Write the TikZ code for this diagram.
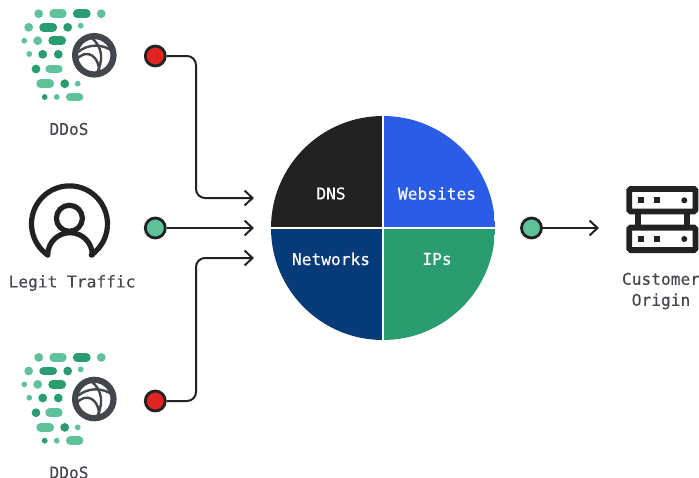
\documentclass[tikz,border=0pt]{standalone}
\usepackage{fontspec}
\setmonofont[FakeBold=0.3]{DejaVu Sans Mono}
\usetikzlibrary{arrows.meta}
\definecolor{inkdark}{HTML}{222222}
\definecolor{inkgrey}{HTML}{43474D}
\definecolor{lightgreen}{HTML}{5FC29A}
\definecolor{darkgreen}{HTML}{2A9D70}
\definecolor{alertred}{HTML}{E02424}
\definecolor{pieblue}{HTML}{2A5CE6}
\definecolor{pienavy}{HTML}{073B78}
\tikzset{
  label text/.style={font=\ttfamily\fontsize{16.2}{21}\selectfont,text=inkgrey,align=center,inner sep=0pt},
  pie text/.style={font=\ttfamily\fontsize{16.2}{20}\selectfont,text=white,inner sep=0pt},
  red dot/.style={circle,draw=inkdark,line width=2.8pt,fill=alertred,minimum size=20pt,inner sep=0pt},
  green dot/.style={circle,draw=inkdark,line width=2.8pt,fill=lightgreen,minimum size=20pt,inner sep=0pt},
  link/.style={draw=inkdark,line width=2pt,rounded corners=9pt,-{Straight Barb[length=8pt,width=15pt,line width=2pt]}},
  pill/.style={line width=8.8pt,line cap=round}
}
\begin{document}
\begin{tikzpicture}[x=1pt,y=-1pt]
\useasboundingbox (0,0) rectangle (699,477);
% attack icons
\foreach \dy in {0,343.7} {
  \begin{scope}[yshift=-\dy pt]
    \foreach \x/\y/\r in {38.7/13.7/4.4,101.3/13.7/4.4,28.7/27.3/4.4,80.7/25.7/2.9,24.3/40.7/2.9,37.7/40.7/4.4,29.3/54/2.9,77.7/83.7/2.9,56.7/97/2.9}
      \fill[lightgreen] (\x,\y) circle[radius=\r];
    \foreach \x/\y/\r in {67.7/27.3/4.4,42.7/54.3/4.4,58.3/54.3/4.4,36/69/4.4,64.7/83.7/4.4,44.7/97/2.9}
      \fill[darkgreen] (\x,\y) circle[radius=\r];
    \foreach \xa/\xb/\y in {53.7/62.3/13.7,49.7/58.3/69,40.7/49.7/83.7,70.3/79/97}
      \draw[pill,lightgreen] (\xa,\y) -- (\xb,\y);
    \foreach \xa/\xb/\y in {77.3/86.3/13.7,43.7/52.7/27.3,52.7/61.7/40.7}
      \draw[pill,darkgreen] (\xa,\y) -- (\xb,\y);
    \draw[inkgrey,line width=6.2pt] (94.3,55.3) circle[radius=19.2];
    \begin{scope}
      \clip (94.3,55.3) circle[radius=19.2];
      \draw[inkgrey,line width=2.4pt] (78,52) .. controls (88,44) and (102,43) .. (114,52);
      \draw[inkgrey,line width=2.4pt] (76,60) .. controls (86,48) and (100,54) .. (99.5,76);
      \draw[inkgrey,line width=2.4pt] (89,36) .. controls (104,46) and (104,62) .. (95,76);
    \end{scope}
  \end{scope}
}
\node[label text] (ddosTop) at (69,129) {DDoS};
\node[label text] (ddosBottom) at (69,472.5) {DDoS};
% legit traffic icon
\draw[inkdark,line width=5.2pt,line cap=round] (47.7,255) arc[start angle=125,end angle=415,radius=38];
\draw[inkdark,line width=5.2pt] (69.4,218.3) circle[radius=13];
\draw[inkdark,line width=5.2pt,line cap=round] (47.7,255) arc[start angle=180,end angle=360,radius=22.3];
\node[label text] (legit) at (72,283) {Legit Traffic};
% customer origin icon
\foreach \y in {186,224.7} {
  \draw[inkdark,line width=5.8pt,rounded corners=1.5pt,fill=white] (629.2,\y+2.9) rectangle (695.4,\y+25.4);
  \fill[inkdark] (638,\y+11.3) rectangle +(6.3,6);
  \fill[inkdark] (653.7,\y+11.3) rectangle +(6.3,6);
  \fill[inkdark] (684.3,\y+14.3) circle[radius=3];
}
\fill[inkdark] (634.7,214) rectangle (640.7,225);
\fill[inkdark] (683.7,214) rectangle (689.7,225);
\node[label text] (origin) at (661,291) {Customer\\Origin};
% pie
\begin{scope}
  \clip (383,228) circle[radius=112];
  \fill[inkdark] (271,116) rectangle (381.7,226.7);
  \fill[pieblue] (384.3,116) rectangle (495,226.7);
  \fill[pienavy] (271,229.3) rectangle (381.7,340);
  \fill[darkgreen] (384.3,229.3) rectangle (495,340);
\end{scope}
\node[pie text] (dns) at (331,193.5) {DNS};
\node[pie text] (websites) at (437,193.5) {Websites};
\node[pie text] (networks) at (331,259) {Networks};
\node[pie text] (ips) at (437,259) {IPs};
% connectors
\node[red dot] (dotTop) at (155.3,56) {};
\node[green dot] (dotMid) at (155.3,228) {};
\node[red dot] (dotBottom) at (155.3,401) {};
\node[green dot] (dotOut) at (531.5,228) {};
\coordinate (inTop) at (254,198);
\coordinate (inMid) at (254,228);
\coordinate (inBottom) at (254,258);
\coordinate (outEnd) at (599,228);
\draw[link] (dotTop) -- (196,56) -- (196,198) -- (inTop);
\draw[link] (dotMid) -- (inMid);
\draw[link] (dotBottom) -- (196,401) -- (196,258) -- (inBottom);
\draw[link] (dotOut) -- (outEnd);
\end{tikzpicture}
\end{document}
